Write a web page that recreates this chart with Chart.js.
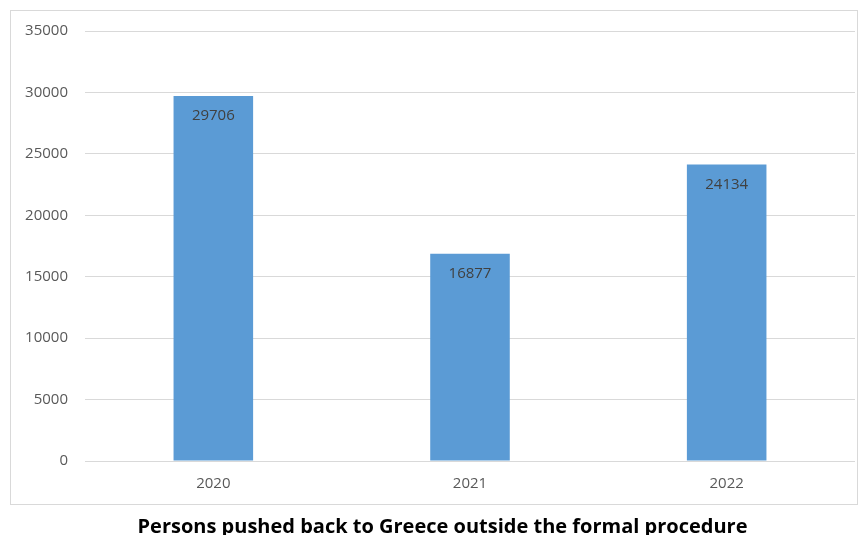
<!DOCTYPE html>
<html>
<head>
<meta charset="utf-8">
<script src="https://cdn.jsdelivr.net/npm/chart.js@4/dist/chart.umd.min.js"></script>
<style>
  html, body { margin: 0; padding: 0; background: #ffffff; }
  #wrap { position: relative; width: 863px; height: 535px; }
</style>
</head>
<body>
<div id="wrap"><canvas id="c" width="863" height="535"></canvas></div>
<script>
// Yearly pushback counts
const years = ['2020', '2021', '2022'];
const pushedBack = [29706, 16877, 24134];
const yTicks = [0, 5000, 10000, 15000, 20000, 25000, 30000, 35000];
const chartTitle = 'Persons pushed back to Greece outside the formal procedure';

const FONT = "'Open Sans', 'Liberation Sans', sans-serif";

// Light frame around the plot region, caption underneath it
const framePlugin = {
  id: 'frame',
  beforeDraw(chart) {
    const ctx = chart.ctx;
    ctx.save();
    ctx.strokeStyle = '#d9d9d9';
    ctx.lineWidth = 1;
    ctx.strokeRect(10.5, 10.5, 847, 494);
    ctx.restore();
  },
  afterDraw(chart) {
    const ctx = chart.ctx;
    ctx.save();
    ctx.font = 'bold 20px ' + FONT;
    ctx.fillStyle = '#000000';
    ctx.textAlign = 'center';
    ctx.textBaseline = 'alphabetic';
    ctx.fillText(chartTitle, 442.5, 533);
    ctx.restore();
  }
};

// Value printed just inside the top of each bar
const valueLabels = {
  id: 'valueLabels',
  afterDatasetsDraw(chart) {
    const ctx = chart.ctx;
    const meta = chart.getDatasetMeta(0);
    ctx.save();
    ctx.font = '15px ' + FONT;
    ctx.fillStyle = '#404040';
    ctx.textAlign = 'center';
    ctx.textBaseline = 'middle';
    meta.data.forEach((bar, i) => {
      ctx.fillText(String(pushedBack[i]), bar.x, bar.y + 20);
    });
    ctx.restore();
  }
};

new Chart(document.getElementById('c'), {
  type: 'bar',
  data: {
    labels: years,
    datasets: [{
      data: pushedBack,
      backgroundColor: '#5b9bd5',
      borderWidth: 0,
      barPercentage: 0.31,
      categoryPercentage: 1.0
    }]
  },
  options: {
    responsive: false,
    animation: false,
    layout: { padding: { left: 10, right: 8, top: 31, bottom: 29 } },
    plugins: {
      legend: { display: false },
      tooltip: { enabled: false },
      title: { display: false }
    },
    scales: {
      x: {
        grid: { display: false, drawTicks: false },
        border: { display: false },
        ticks: { color: '#595959', font: { family: FONT, size: 15 }, padding: 14 },
        afterFit(scale) { scale.height = 45; }
      },
      y: {
        min: 0,
        max: 35000,
        afterBuildTicks(scale) { scale.ticks = yTicks.map(v => ({ value: v })); },
        grid: { color: '#d9d9d9', lineWidth: 1, drawTicks: false },
        border: { display: false },
        ticks: {
          color: '#595959',
          font: { family: FONT, size: 15 },
          padding: 17,
          callback: (v) => String(v)
        },
        afterFit(scale) { scale.width = 75; }
      }
    }
  },
  plugins: [framePlugin, valueLabels]
});
</script>
</body>
</html>
